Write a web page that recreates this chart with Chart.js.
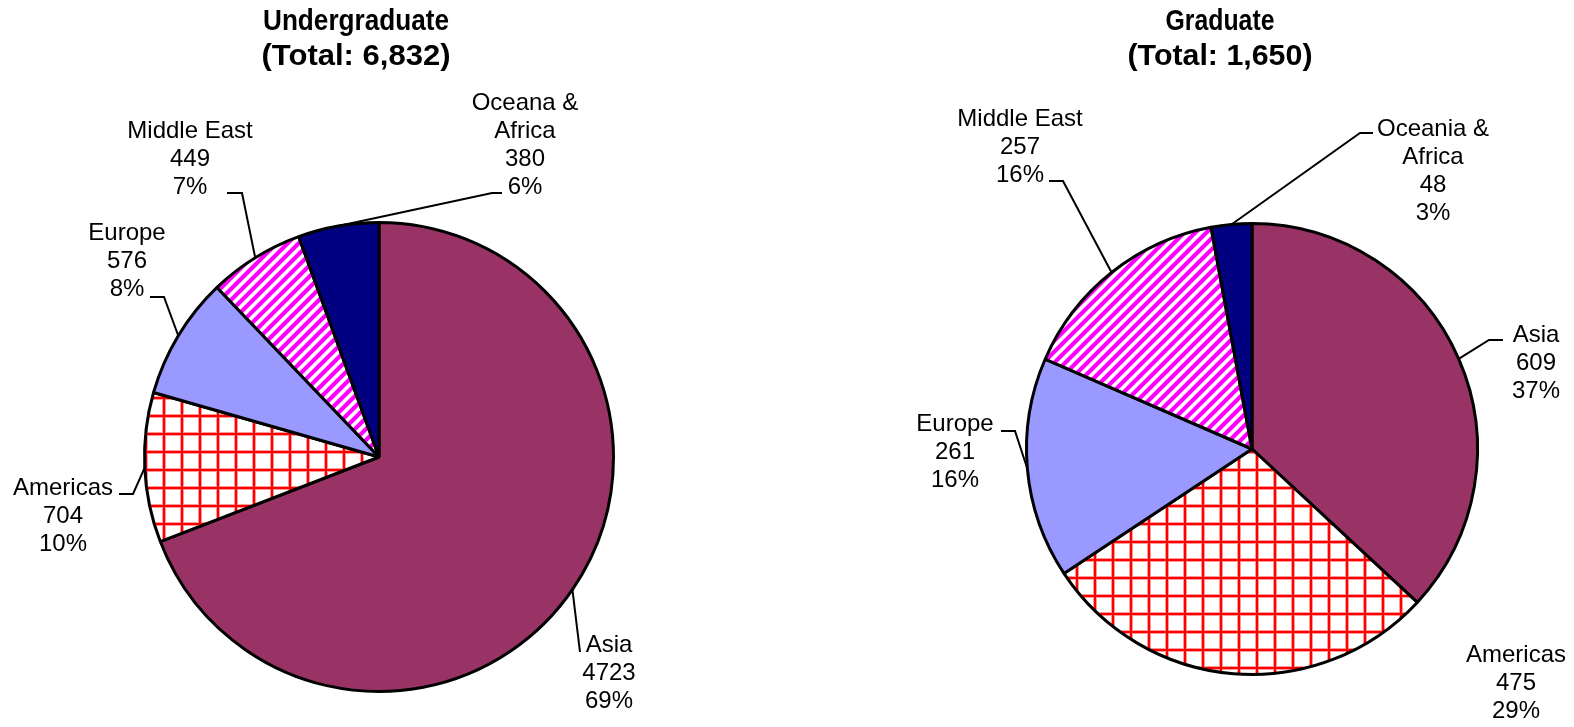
<!DOCTYPE html>
<html><head><meta charset="utf-8">
<script src="https://cdn.jsdelivr.net/npm/chart.js@4.4.1/dist/chart.umd.min.js"></script>
<style>
html,body{margin:0;padding:0;background:#fff;width:1574px;height:727px;overflow:hidden}
#wrap{position:relative;width:1574px;height:727px}
canvas{position:absolute;top:0}
</style></head><body>
<div id="wrap">
<canvas id="ug" width="787" height="727" style="left:0;width:787px;height:727px"></canvas>
<canvas id="gr" width="787" height="727" style="left:787px;width:787px;height:727px"></canvas>
</div>
<script>
// ---- data ----
const ugCategories = ['Asia', 'Americas', 'Europe', 'Middle East', 'Oceana &\nAfrica'];
const ugValues = [4723, 704, 576, 449, 380];
const ugTitle = ['Undergraduate', '(Total: 6,832)'];

const grCategories = ['Asia', 'Americas', 'Europe', 'Middle East', 'Oceania &\nAfrica'];
const grValues = [609, 475, 261, 257, 48];
const grTitle = ['Graduate', '(Total: 1,650)'];

// ---- layout (page coordinates) ----
const ugLayout = {
  offsetX: 0,
  padding: {left: 143, right: 172, top: 221, bottom: 34},
  titleX: 356, titleY: [22, 57], titleW: [186, 189],
  labels: [
    {x: 609, y: 645, leader: [[580, 652]]},
    {x: 63, y: 488, leader: [[133, 494], [119, 494]]},
    {x: 127, y: 233, leader: [[164, 297], [150, 297]]},
    {x: 190, y: 131, leader: [[242, 193], [227, 193]]},
    {x: 525, y: 103, leader: [[492, 193], [502, 193]]}
  ]
};
const grLayout = {
  offsetX: 787,
  padding: {left: 238, right: 95, top: 222, bottom: 51},
  titleX: 1220, titleY: [22, 57], titleW: [109, 185],
  labels: [
    {x: 1536, y: 335, leader: [[1489, 340], [1503, 340]]},
    {x: 1516, y: 655, leader: []},
    {x: 955, y: 424, leader: [[1015, 431], [1001, 431]]},
    {x: 1020, y: 119, leader: [[1063, 181], [1049, 181]]},
    {x: 1433, y: 129, leader: [[1360, 133], [1373, 133]]}
  ]
};

const LINE_H = 28;

function gridPattern(ctx) {
  const s = 18;
  const c = document.createElement('canvas'); c.width = s; c.height = s;
  const g = c.getContext('2d');
  g.fillStyle = '#ffffff'; g.fillRect(0, 0, s, s);
  g.fillStyle = '#ff9a9a'; g.fillRect(0, 0, 4, s); g.fillRect(0, 0, s, 4);
  g.fillStyle = '#ff0000'; g.fillRect(1, 0, 2, s); g.fillRect(0, 1, s, 2);
  return ctx.createPattern(c, 'repeat');
}
function stripePattern(ctx) {
  const s = 11;
  const c = document.createElement('canvas'); c.width = s; c.height = s;
  const g = c.getContext('2d');
  const img = g.createImageData(s, s);
  for (let y = 0; y < s; y++) for (let x = 0; x < s; x++) {
    const m = (x + y) % s;
    let t; // magenta amount
    if (m <= 4) t = 1; else if (m === 5 || m === 10) t = 0.45; else t = 0;
    const i = (y * s + x) * 4;
    img.data[i] = 255; img.data[i + 1] = Math.round(255 * (1 - t)); img.data[i + 2] = 255; img.data[i + 3] = 255;
  }
  g.putImageData(img, 0, 0);
  return ctx.createPattern(c, 'repeat');
}

const labelPlugin = {
  id: 'pieLabels',
  afterDraw(chart) {
    const L = chart.options.plugins.pieLabels;
    const ctx = chart.ctx;
    const ox = L.layout.offsetX;
    const values = chart.data.datasets[0].data;
    const total = values.reduce((a, b) => a + b, 0);
    const arcs = chart.getDatasetMeta(0).data;
    ctx.save();
    // titles (condensed bold)
    ctx.fillStyle = '#000';
    ctx.textAlign = 'center';
    ctx.textBaseline = 'middle';
    ctx.font = 'bold 30px "Liberation Sans", Arial, sans-serif';
    L.title.forEach((t, i) => {
      const w = ctx.measureText(t).width;
      const sx = L.layout.titleW[i] / w;
      ctx.save();
      ctx.translate(L.layout.titleX - ox, L.layout.titleY[i]);
      ctx.scale(sx, 1);
      ctx.fillText(t, 0, 0);
      ctx.restore();
    });
    // leaders
    ctx.strokeStyle = '#000';
    ctx.lineWidth = 2;
    ctx.lineJoin = 'miter';
    arcs.forEach((arc, i) => {
      const lay = L.layout.labels[i];
      if (!lay.leader.length) return;
      const p = arc.getProps(['x', 'y', 'startAngle', 'endAngle', 'outerRadius'], true);
      const mid = (p.startAngle + p.endAngle) / 2;
      const sx = p.x + Math.cos(mid) * p.outerRadius;
      const sy = p.y + Math.sin(mid) * p.outerRadius;
      ctx.beginPath();
      ctx.moveTo(sx, sy);
      lay.leader.forEach(pt => ctx.lineTo(pt[0] - ox, pt[1]));
      ctx.stroke();
    });
    // labels
    ctx.font = '24px "Liberation Sans", Arial, sans-serif';
    chart.data.labels.forEach((lab, i) => {
      const lay = L.layout.labels[i];
      const lines = lab.split('\n').concat([String(values[i]), Math.round(values[i] / total * 100) + '%']);
      lines.forEach((ln, k) => ctx.fillText(ln, lay.x - ox, lay.y + k * LINE_H));
    });
    ctx.restore();
  }
};

function makeChart(id, categories, values, title, layout) {
  const canvas = document.getElementById(id);
  const ctx = canvas.getContext('2d');
  const fills = ['#993366', gridPattern(ctx), '#9999FF', stripePattern(ctx), '#000080'];
  return new Chart(canvas, {
    type: 'pie',
    data: {
      labels: categories,
      datasets: [{
        data: values,
        backgroundColor: fills,
        borderColor: '#000000',
        borderWidth: 3,
        hoverOffset: 0
      }]
    },
    options: {
      responsive: false,
      animation: false,
      devicePixelRatio: 1,
      layout: {padding: layout.padding},
      plugins: {
        legend: {display: false},
        tooltip: {enabled: false},
        title: {display: false},
        pieLabels: {layout: layout, title: title}
      }
    },
    plugins: [labelPlugin]
  });
}

makeChart('ug', ugCategories, ugValues, ugTitle, ugLayout);
makeChart('gr', grCategories, grValues, grTitle, grLayout);
</script>
</body></html>
